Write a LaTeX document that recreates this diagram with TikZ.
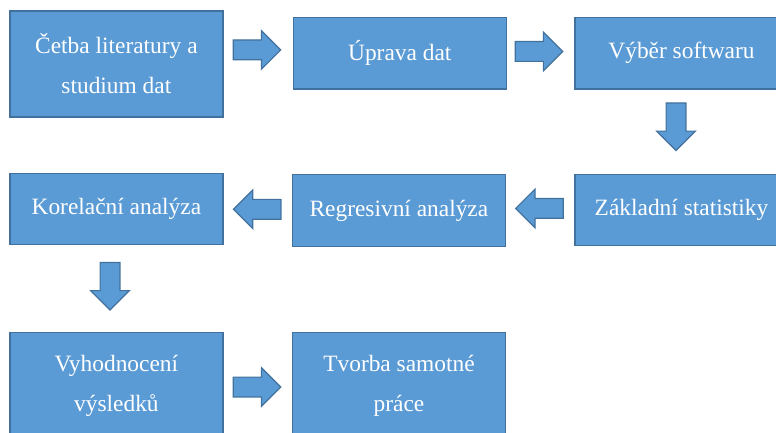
\documentclass[tikz,border=0pt]{standalone}
\usepackage{fontspec}
\setmainfont{Liberation Serif}
\usetikzlibrary{calc,shapes.arrows}

\definecolor{boxblue}{HTML}{5B9BD5}
\definecolor{boxedge}{HTML}{41719C}

\tikzset{
  every picture/.append style={x=1pt, y=-1pt},
  stepbox/.style={draw=boxedge, fill=boxblue, line width=1.2pt, text=white,
    minimum width=213pt, inner sep=0pt, align=center,
    font=\fontsize{23.4}{40}\selectfont},
  blockarrow/.style={single arrow, draw=boxedge, fill=boxblue, line width=1.2pt,
    inner xsep=0pt, inner ysep=9.3pt, minimum height=47.5pt, minimum width=37.5pt,
    single arrow head extend=9.4pt, rotate=#1},
  blockarrow/.default=0
}

\begin{document}
\begin{tikzpicture}
  \useasboundingbox (0,0) rectangle (776,433);
  \clip (0,0) rectangle (776,433);
  \node[stepbox, minimum height=106pt] (lit) at(116.4,64){Četba literatury a\\studium dat};
  \node[stepbox, minimum height=71.7pt] (uprava) at(399.8,53.2){Úprava dat};
  \node[stepbox, minimum height=71.7pt] (software) at(681.5,53.2){Výběr softwaru};
  \node[stepbox, minimum height=71pt] (zakladni) at(681.5,210.3){Základní statistiky};
  \node[stepbox, minimum height=72pt] (regrese) at(398.9,210.5){Regresivní analýza};
  \node[stepbox, minimum height=71.5pt] (korelace) at(116.4,209){Korelační analýza};
  \node[stepbox, minimum height=106pt] (vyhodnoceni) at(116.4,385.5){Vyhodnocení\\výsledků};
  \node[stepbox, minimum height=106pt] (tvorba) at(399,385.5){Tvorba samotné\\práce};
  \node[blockarrow] (a1) at($(lit.east |- uprava.west)!.5!(uprava.west)+(-6.1,-3.3)$){};
  \node[blockarrow] (a2) at($(uprava.east)!.5!(software.west)+(-6.7,-1.7)$){};
  \node[blockarrow=-90] (a3) at($(software.south)!.5!(zakladni.north)+(-5.5,-10.2)$){};
  \node[blockarrow=180] (a4) at($(zakladni.west)!.5!(regrese.east)+(4.2,-2)$){};
  \node[blockarrow=180] (a5) at($(regrese.west)!.5!(korelace.east)+(4.5,-0.5)$){};
  \node[blockarrow=-90] (a6) at($(korelace.south)!.5!(vyhodnoceni.north)+(-6.4,-7.4)$){};
  \node[blockarrow] (a7) at($(vyhodnoceni.east)!.5!(tvorba.west)+(-5.6,1.5)$){};
\end{tikzpicture}
\end{document}
